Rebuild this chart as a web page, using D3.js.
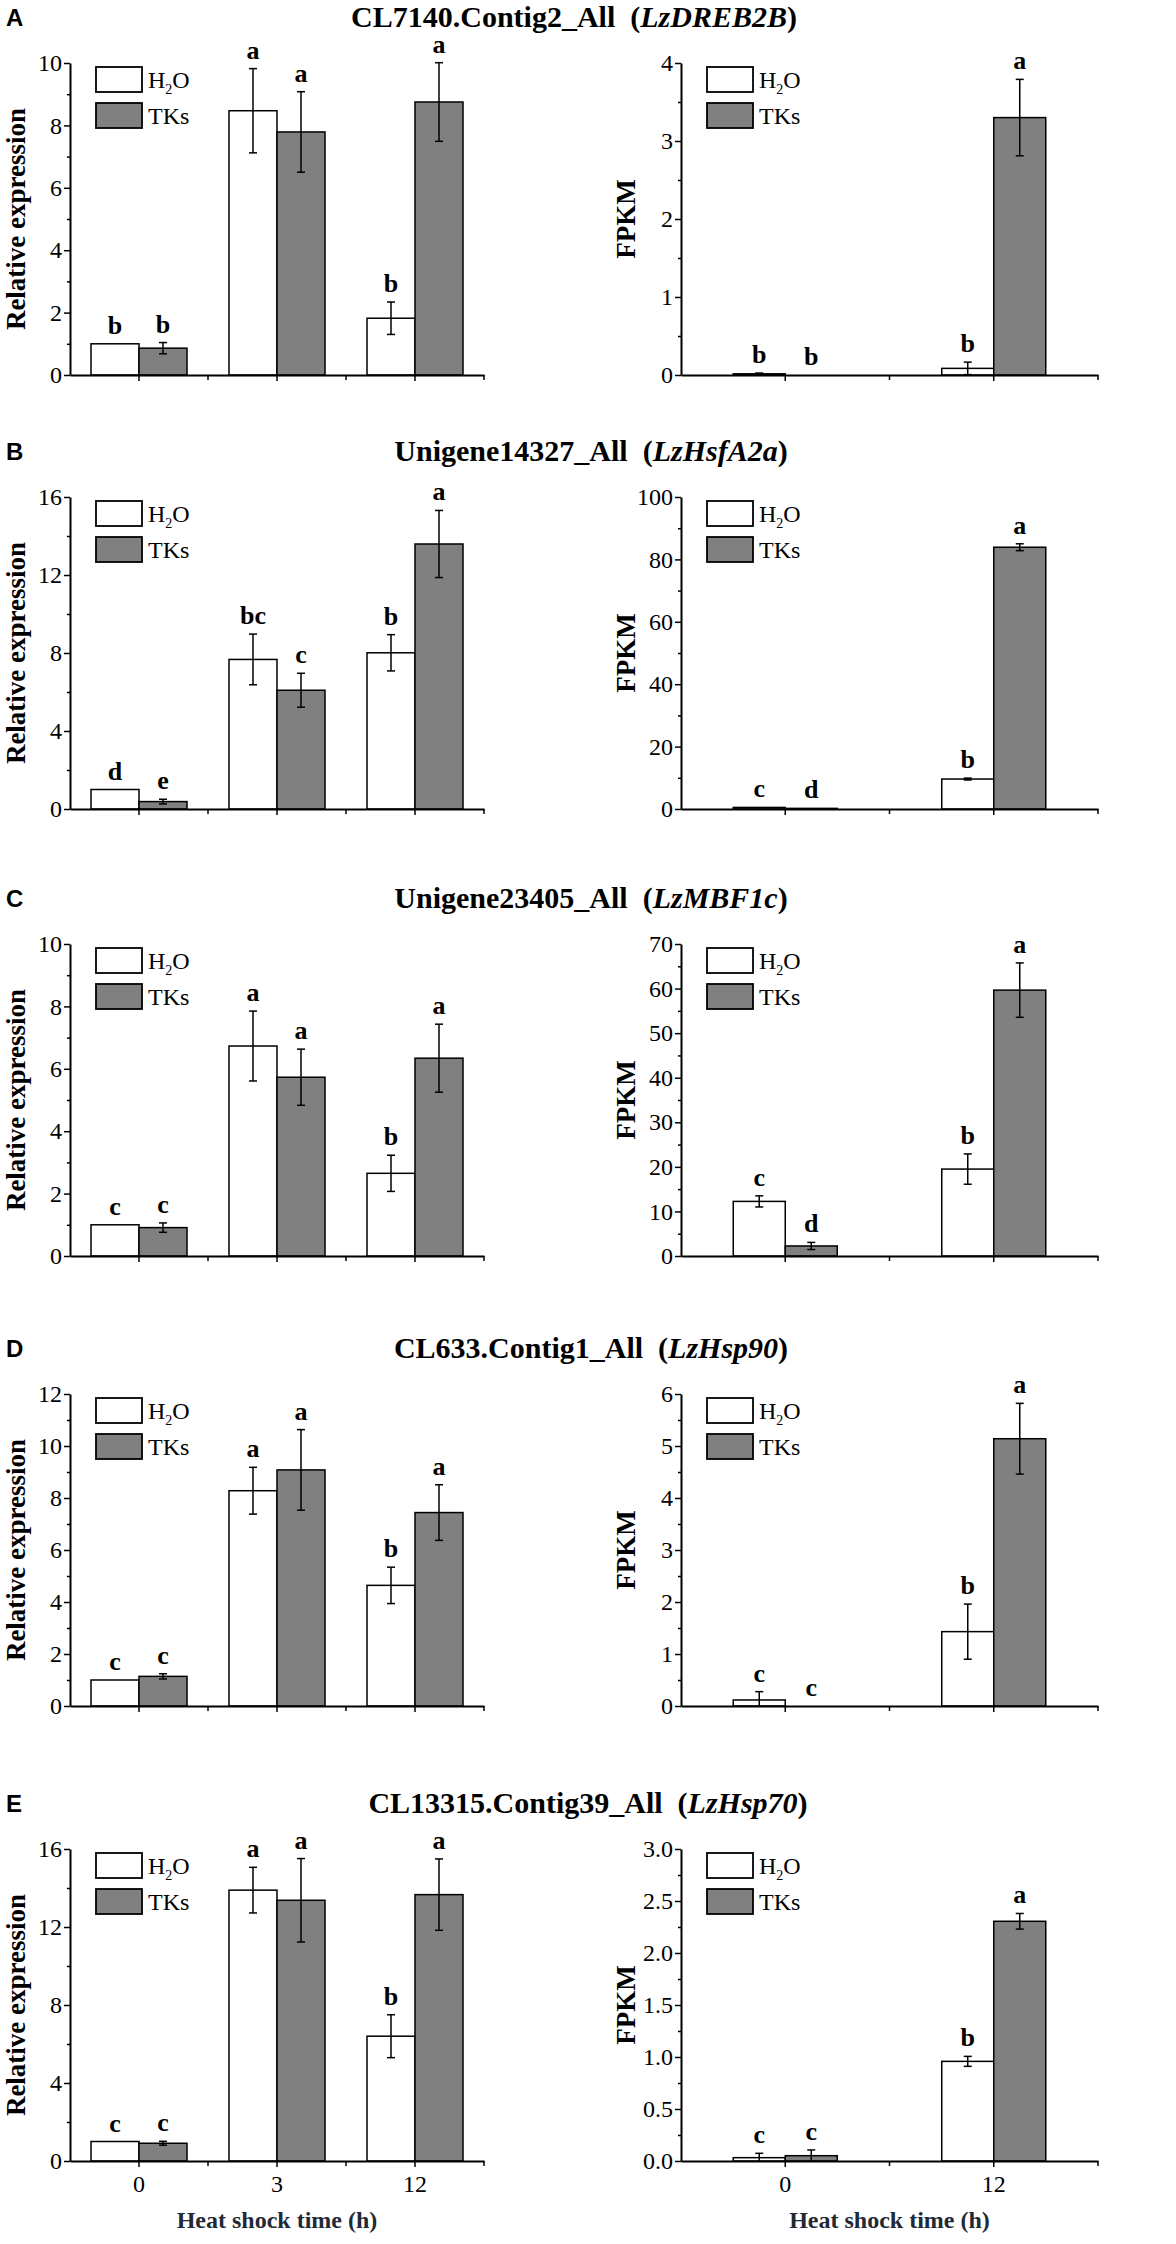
<!DOCTYPE html>
<html>
<head>
<meta charset="utf-8">
<script src="https://cdn.jsdelivr.net/npm/d3@7"></script>
<style>
  body { margin: 0; background: #fff; }
  text { font-family: "Liberation Serif", "Times New Roman", serif; }
  text.panel-label { font-family: "Liberation Sans", Arial, sans-serif; }
</style>
</head>
<body>
<div id="the_chart"></div>
<script>
// ---- data ----
var panelLabels = ["A", "B", "C", "D", "E"];
var geneIds = ["CL7140.Contig2_All", "Unigene14327_All", "Unigene23405_All", "CL633.Contig1_All", "CL13315.Contig39_All"];
var geneNames = ["LzDREB2B", "LzHsfA2a", "LzMBF1c", "LzHsp90", "LzHsp70"];
var series = ["H2O", "TKs"];
var relTimes = ["0", "3", "12"];
var fpkmTimes = ["0", "12"];

// relative expression (qPCR)
var relH2O = [[1.0, 8.47, 1.82], [1.0, 7.67, 8.01], [1.0, 6.73, 2.65], [1.0, 8.28, 4.64], [1.0, 13.89, 6.40]];
var relH2OErr = [[0, 1.35, 0.52], [0, 1.30, 0.93], [0, 1.12, 0.58], [0, 0.90, 0.70], [0, 1.17, 1.10]];
var relTKs = [[0.86, 7.79, 8.75], [0.38, 6.09, 13.59], [0.91, 5.73, 6.34], [1.14, 9.08, 7.44], [0.91, 13.37, 13.66]];
var relTKsErr = [[0.18, 1.29, 1.26], [0.12, 0.87, 1.72], [0.15, 0.90, 1.09], [0.10, 1.55, 1.07], [0.10, 2.14, 1.83]];
var relH2OLetters = [["b", "a", "b"], ["d", "bc", "b"], ["c", "a", "b"], ["c", "a", "b"], ["c", "a", "b"]];
var relTKsLetters = [["b", "a", "a"], ["e", "c", "a"], ["c", "a", "a"], ["c", "a", "a"], ["c", "a", "a"]];
var relMax = [10, 16, 10, 12, 16];
var relStep = [2, 4, 2, 2, 4];

// FPKM (RNA-seq)
var fpkmH2O = [[0.015, 0.085], [0.5, 9.6], [12.25, 19.5], [0.116, 1.43], [0.032, 0.958]];
var fpkmH2OErr = [[0.01, 0.08], [0, 0.3], [1.25, 3.4], [0.16, 0.53], [0.042, 0.048]];
var fpkmTKs = [[0, 3.30], [0.2, 83.9], [2.25, 59.65], [0, 5.14], [0.051, 2.305]];
var fpkmTKsErr = [[0, 0.49], [0, 1.1], [0.8, 6.1], [0, 0.68], [0.055, 0.075]];
var fpkmH2OLetters = [["b", "b"], ["c", "b"], ["c", "b"], ["c", "b"], ["c", "b"]];
var fpkmTKsLetters = [["b", "a"], ["d", "a"], ["d", "a"], ["c", "a"], ["c", "a"]];
var fpkmMax = [4, 100, 70, 6, 3];
var fpkmStep = [1, 20, 10, 1, 0.5];

// ---- layout ----
var w = 1176, h = 2244;
var rowTop = [63, 497, 944, 1394, 1849];
var plotH = 312;
var titleX = [574, 591, 591, 591, 588];
var leftX = [70, 484], rightX = [681, 1098];
var fills = { "H2O": "#ffffff", "TKs": "#808080" };

var svg = d3.select("#the_chart").append("svg")
  .attr("width", w)
  .attr("height", h);
svg.append("rect").attr("width", w).attr("height", h).attr("fill", "#fff");

function gen_panel(parent, opt) {
  var g = parent.append("g");
  var x0 = opt.xr[0], x1 = opt.xr[1];
  var top = opt.top, bottom = opt.top + plotH;

  var xscale = d3.scaleBand().domain(opt.times).range([x0, x1]).paddingInner(0).paddingOuter(0);
  var sub = d3.scaleBand().domain(series).range([-opt.barW, opt.barW]);
  var yscale = d3.scaleLinear().domain([0, opt.max]).range([bottom, top]);

  // y axis
  var majors = d3.range(0, opt.max + opt.step / 2, opt.step);
  var minors = d3.range(opt.step / 2, opt.max, opt.step);
  var fmt = opt.step < 1 ? d3.format(".1f") : d3.format("d");

  var gy = g.append("g")
    .attr("transform", "translate(" + x0 + ",0)")
    .call(d3.axisLeft(yscale).tickValues(majors).tickSize(6).tickSizeOuter(0).tickPadding(2).tickFormat(fmt));
  gy.select(".domain").attr("stroke-width", 2);
  gy.selectAll(".tick line").attr("stroke-width", 1.5);
  gy.selectAll(".tick text")
    .attr("font-size", 24)
    .attr("fill", "#000");

  g.append("g")
    .attr("transform", "translate(" + x0 + ",0)")
    .call(d3.axisLeft(yscale).tickValues(minors).tickSize(3).tickSizeOuter(0).tickFormat(""))
    .call(function (s) { s.select(".domain").remove(); })
    .selectAll(".tick line").attr("stroke-width", 1.5);

  // y title
  g.append("text")
    .attr("transform", "translate(" + opt.ytitleX + "," + (top + plotH / 2) + ") rotate(-90)")
    .attr("text-anchor", "middle")
    .attr("dy", "0.35em")
    .attr("font-size", 27)
    .attr("font-weight", "bold")
    .text(opt.ytitle);

  // bars
  var rows = [];
  opt.times.forEach(function (t, i) {
    series.forEach(function (s) {
      rows.push({ time: t, s: s, v: opt.vals[s][i], e: opt.errs[s][i], l: opt.letters[s][i] });
    });
  });

  var cx = function (d) { return xscale(d.time) + xscale.bandwidth() / 2 + sub(d.s) + sub.bandwidth() / 2; };

  g.selectAll("rect.bar")
    .data(rows)
    .enter().append("rect")
    .attr("class", "bar")
    .attr("x", function (d) { return xscale(d.time) + xscale.bandwidth() / 2 + sub(d.s); })
    .attr("width", sub.bandwidth())
    .attr("y", function (d) { return yscale(d.v); })
    .attr("height", function (d) { return bottom - yscale(d.v); })
    .attr("fill", function (d) { return fills[d.s]; })
    .attr("stroke", function (d) { return d.v > 0 ? "#000" : "none"; })
    .attr("stroke-width", 1.5);

  // error bars
  var eb = g.selectAll("g.err")
    .data(rows.filter(function (d) { return d.e > 0; }))
    .enter().append("g")
    .attr("class", "err")
    .attr("stroke", "#000")
    .attr("stroke-width", 1.5);
  eb.append("line")
    .attr("x1", cx).attr("x2", cx)
    .attr("y1", function (d) { return yscale(d.v + d.e); })
    .attr("y2", function (d) { return Math.min(bottom, yscale(d.v - d.e)); });
  eb.append("line")
    .attr("x1", function (d) { return cx(d) - 4; }).attr("x2", function (d) { return cx(d) + 4; })
    .attr("y1", function (d) { return yscale(d.v + d.e); })
    .attr("y2", function (d) { return yscale(d.v + d.e); });
  eb.filter(function (d) { return d.v - d.e > 0; }).append("line")
    .attr("x1", function (d) { return cx(d) - 4; }).attr("x2", function (d) { return cx(d) + 4; })
    .attr("y1", function (d) { return yscale(d.v - d.e); })
    .attr("y2", function (d) { return yscale(d.v - d.e); });

  // significance letters
  g.selectAll("text.sig")
    .data(rows)
    .enter().append("text")
    .attr("class", "sig")
    .attr("x", cx)
    .attr("y", function (d) { return yscale(d.v + d.e) - 10; })
    .attr("text-anchor", "middle")
    .attr("font-size", 26)
    .attr("font-weight", "bold")
    .text(function (d) { return d.l; });

  // x axis
  var gx = g.append("g")
    .attr("transform", "translate(0," + bottom + ")")
    .call(d3.axisBottom(xscale).tickSize(6).tickSizeOuter(0).tickPadding(8)
      .tickFormat(opt.showX ? null : ""));
  gx.select(".domain").attr("stroke-width", 2);
  gx.selectAll(".tick line").attr("stroke-width", 1.5);
  gx.selectAll(".tick text")
    .attr("font-size", 24)
    .attr("fill", "#000");

  // boundary ticks between categories
  var edges = opt.times.slice(1).map(function (t) { return xscale(t); }).concat([x1]);
  g.selectAll("line.edge")
    .data(edges)
    .enter().append("line")
    .attr("class", "edge")
    .attr("x1", function (d) { return d; }).attr("x2", function (d) { return d; })
    .attr("y1", bottom).attr("y2", bottom + 5)
    .attr("stroke", "#000").attr("stroke-width", 1.5);

  if (opt.showX) {
    g.append("text")
      .attr("x", (x0 + x1) / 2)
      .attr("y", bottom + 67)
      .attr("text-anchor", "middle")
      .attr("font-size", 24)
      .attr("font-weight", "bold")
      .attr("fill", "#1f2a36")
      .text("Heat shock time (h)");
  }

  // legend
  var lg = g.append("g").attr("transform", "translate(" + (x0 + 26) + "," + top + ")");
  series.forEach(function (s, i) {
    lg.append("rect")
      .attr("x", 0).attr("y", 4 + i * 36)
      .attr("width", 46).attr("height", 25)
      .attr("fill", fills[s])
      .attr("stroke", "#000").attr("stroke-width", 1.8);
    var t = lg.append("text")
      .attr("x", 52).attr("y", 25 + i * 36)
      .attr("font-size", 24);
    if (s == "H2O") {
      t.append("tspan").text("H");
      t.append("tspan").attr("font-size", 14).attr("dy", 6).text("2");
      t.append("tspan").attr("dy", -6).text("O");
    } else {
      t.text(s);
    }
  });
}

panelLabels.forEach(function (lab, r) {
  var g = svg.append("g");
  var top = rowTop[r];

  g.append("text")
    .attr("class", "panel-label")
    .attr("x", 6).attr("y", top - 37)
    .attr("font-size", 24)
    .attr("font-weight", "bold")
    .text(lab);

  var title = g.append("text")
    .attr("x", titleX[r]).attr("y", top - 36)
    .attr("text-anchor", "middle")
    .attr("font-size", 30)
    .attr("font-weight", "bold");
  title.append("tspan").text(geneIds[r] + "\u00a0\u00a0(");
  title.append("tspan").attr("font-style", "italic").text(geneNames[r]);
  title.append("tspan").text(")");

  gen_panel(g, {
    top: top, xr: leftX, times: relTimes, barW: 48,
    max: relMax[r], step: relStep[r],
    vals: { "H2O": relH2O[r], "TKs": relTKs[r] },
    errs: { "H2O": relH2OErr[r], "TKs": relTKsErr[r] },
    letters: { "H2O": relH2OLetters[r], "TKs": relTKsLetters[r] },
    ytitle: "Relative expression", ytitleX: 16,
    showX: r == panelLabels.length - 1
  });

  gen_panel(g, {
    top: top, xr: rightX, times: fpkmTimes, barW: 52,
    max: fpkmMax[r], step: fpkmStep[r],
    vals: { "H2O": fpkmH2O[r], "TKs": fpkmTKs[r] },
    errs: { "H2O": fpkmH2OErr[r], "TKs": fpkmTKsErr[r] },
    letters: { "H2O": fpkmH2OLetters[r], "TKs": fpkmTKsLetters[r] },
    ytitle: "FPKM", ytitleX: 626,
    showX: r == panelLabels.length - 1
  });
});
</script>
</body>
</html>
